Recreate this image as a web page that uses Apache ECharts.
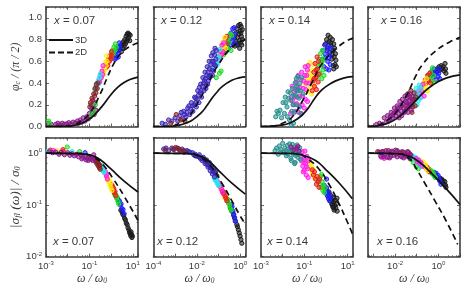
<!DOCTYPE html>
<html><head><meta charset="utf-8">
<style>html,body{margin:0;padding:0;background:#fff}#c{width:463px;height:289px;filter:blur(.35px)}</style>
<script src="https://cdn.jsdelivr.net/npm/echarts@6/dist/echarts.min.js"></script>
</head><body><div id="c"></div>
<script>
// All points: [log10(omega/omega0), phi/(pi/2)] on top row, [log10(omega/omega0), log10(sigma/sigma0)] on bottom row.
const panelLabels=['x = 0.07','x = 0.12','x = 0.14','x = 0.16'];
// theory curves
const top3D07=[[-3,0],[-2.2,.001],[-1.8,.006],[-1.5,.02],[-1.2,.045],[-1,.07],[-.78,.105],[-.4,.19],[-.02,.29],[.3,.36],[.6,.405],[.9,.435],[1.24,.455]];
const top2D07=[[-3,0],[-2.2,.002],[-1.8,.012],[-1.5,.035],[-1,.12],[-.5,.3],[-.2,.44],[.1,.57],[.4,.66],[.8,.73],[1.24,.77]];
const top3D12=[[-4,0],[-3.2,.002],[-2.8,.012],[-2.5,.03],[-2.2,.06],[-1.8,.125],[-1.54,.19],[-1.3,.26],[-1.05,.32],[-.84,.365],[-.38,.425],[0,.45],[.24,.457]];
const top2D12=[[-4,0],[-3.3,.002],[-2.84,.025],[-2.38,.09],[-1.92,.23],[-1.45,.41],[-1,.57],[-.38,.73],[.24,.8]];
const top3D14=[[-3,0],[-2.5,.004],[-2.1,.012],[-1.7,.03],[-1.25,.08],[-1,.125],[-.78,.18],[-.48,.27],[-.25,.325],[-.02,.365],[.45,.42],[.9,.45],[1.25,.46]];
const top2D14=[[-3,0],[-2.5,.003],[-2,.03],[-1.55,.09],[-1.1,.23],[-.63,.41],[-.17,.58],[.6,.74],[1.25,.815]];
const top3D16=[[-3.25,0],[-2.88,.004],[-2.42,.025],[-1.96,.068],[-1.5,.145],[-1.03,.24],[-.73,.305],[-.27,.38],[.35,.445],[1,.475]];
const top2D16=[[-3.25,0],[-2.88,.006],[-2.42,.05],[-1.96,.13],[-1.46,.29],[-1.03,.47],[-.77,.56],[-.16,.69],[.54,.78],[1,.82]];
const bot3D07=[[-3,0],[-1.5,-.01],[-1.1,-.025],[-.78,-.06],[-.48,-.13],[-.02,-.3],[.6,-.54],[1.24,-.75]];
const bot2D07=[[-3,0],[-1.4,-.005],[-.78,-.085],[-.4,-.21],[.06,-.47],[.6,-.83],[1.24,-1.3]];
const bot3D12=[[-4,0],[-2.35,-.01],[-1.76,-.07],[-1.45,-.15],[-1,-.33],[-.38,-.58],[.24,-.79]];
const bot2D12=[[-4,0],[-2.35,-.005],[-1.76,-.1],[-1.3,-.28],[-.84,-.58],[-.38,-.92],[0,-1.21],[.24,-1.37]];
const bot3D14=[[-3,0],[-1.6,-.005],[-1.09,-.035],[-.48,-.14],[-.02,-.31],[.6,-.57],[1.22,-.88]];
const bot2D14=[[-3,0],[-1.4,-.005],[-.78,-.13],[-.32,-.31],[.14,-.6],[.6,-.97],[.98,-1.32],[1.25,-1.58]];
const bot3D16=[[-3.25,0],[-1.9,-.01],[-1.34,-.06],[-.88,-.17],[-.27,-.41],[.35,-.68],[1,-.99]];
const bot2D16=[[-3.25,0],[-1.8,-.01],[-1.3,-.12],[-1.03,-.29],[-.57,-.62],[-.11,-.955],[.35,-1.3],[.89,-1.76]];

// phase, x = 0.07
const t07Black=[[.41,.71],[.45,.74],[.48,.69],[.5,.76],[.54,.72],[.57,.78],[.6,.74],[.63,.8],[.66,.76],[.69,.83],[.71,.78],[.74,.85],[.76,.8],[.78,.86],[.8,.82],[.83,.85],[.86,.79],[.88,.84]];
const t07Blue=[[.18,.62],[.21,.66],[.24,.63],[.26,.7],[.29,.67],[.32,.74],[.35,.7],[.38,.77],[.4,.73],[.33,.64]];
const t07Green=[[-.05,.63],[-.01,.66],[.03,.64],[.06,.7],[.1,.67],[.13,.73],[.17,.7],[.2,.76],[.24,.73]];
const t07Red=[[-.23,.54],[-.19,.58],[-.15,.56],[-.12,.62],[-.08,.6],[-.05,.65],[-.01,.62],[.02,.69],[.04,.65]];
const t07Yellow=[[-.42,.46],[-.38,.5],[-.34,.48],[-.32,.54],[-.28,.52],[-.26,.59],[-.23,.56],[-.21,.65],[-.19,.6]];
const t07Magenta=[[-.6,.4],[-.56,.43],[-.52,.41],[-.49,.47],[-.45,.45],[-.42,.51],[-.39,.48],[-.37,.56]];
const t07Cyan=[[-.75,.34],[-.7,.37],[-.66,.35],[-.62,.41],[-.58,.39],[-.54,.45],[-.5,.48]];
const t07Brown=[[-.98,.18],[-.95,.22],[-.92,.2],[-.88,.26],[-.84,.24],[-.8,.3],[-.76,.28],[-.74,.35],[-.7,.31],[-.68,.39],[-.64,.35],[-.6,.4]];
const t07Purple=[[-2.88,.03],[-2.75,.02],[-2.55,.02],[-2.45,.03],[-2.35,.015],[-2.25,.03],[-2.15,.02],[-2.05,.025],[-1.95,.035],[-1.85,.02],[-1.75,.04],[-1.65,.03],[-1.55,.05],[-1.5,.03],[-1.42,.06],[-1.35,.04],[-1.28,.08],[-1.2,.05],[-1.12,.09],[-1.05,.07],[-1,.12],[-.95,.09],[-.9,.16],[-.85,.12],[-.8,.18],[-.78,.11],[-.75,.22],[-.7,.15]];
const t07Low=[[-2.88,.05],[-2.82,.02],[-.9,.1],[-.82,.14],[-.72,.2]];
// phase, x = 0.12
const t12Black=[[-.3,.76],[-.26,.82],[-.24,.74],[-.2,.86],[-.18,.78],[-.14,.9],[-.12,.82],[-.1,.75],[-.07,.93],[-.05,.85],[-.03,.79],[0,.94],[.01,.88],[.03,.77],[.05,.92],[.06,.83],[.08,.75],[.1,.89],[.11,.8],[-.15,.76],[-.02,.72],[.04,.86]];
const t12Blue=[[-.61,.7],[-.57,.76],[-.53,.72],[-.5,.8],[-.46,.75],[-.42,.86],[-.38,.78],[-.34,.9],[-.3,.82],[-.27,.91],[-.24,.85],[-.22,.76]];
const t12Green=[[-.76,.66],[-.72,.71],[-.67,.68],[-.63,.76],[-.58,.72],[-.55,.81],[-.5,.77],[-.46,.85],[-.42,.7],[-.38,.84]];
const t12Red=[[-.9,.65],[-.85,.7],[-.81,.67],[-.77,.75],[-.72,.71],[-.68,.81],[-.63,.76],[-.61,.83]];
const t12Yellow=[[-.92,.66],[-.87,.73],[-.82,.7],[-.78,.78],[-.74,.74],[-.7,.82],[-.66,.72]];
const t12Magenta=[[-1.07,.58],[-1.02,.64],[-.97,.61],[-.93,.69],[-.88,.66],[-.84,.75],[-.8,.69],[-.76,.77]];
const t12Cyan=[[-1.15,.55],[-1.1,.6],[-1.05,.57],[-1.01,.65],[-.97,.63],[-.93,.71]];
const t12Navy=[[-3.6,.03],[-3.45,.02],[-3.3,.06],[-3.15,.05],[-3,.08],[-2.88,.05],[-2.78,.1],[-2.68,.07],[-2.6,.14],[-2.5,.09],[-2.42,.17],[-2.32,.11],[-2.25,.22],[-2.18,.14],[-2.1,.27],[-2.02,.18],[-1.96,.33],[-1.9,.22],[-1.82,.39],[-1.78,.27],[-1.72,.45],[-1.66,.33],[-1.62,.5],[-1.56,.38],[-1.52,.55],[-1.47,.42],[-1.43,.6],[-1.38,.47],[-1.33,.65],[-1.3,.52],[-1.26,.68],[-1.2,.57],[-1.16,.72],[-1.12,.62],[-1.3,.6],[-1.48,.5],[-1.65,.42],[-1.85,.31],[-2.05,.22],
 [-2.72,.13],[-2.56,.11],[-2.45,.13],[-2.36,.19],[-2.28,.16],[-2.2,.19],[-2.12,.2],[-2.06,.26],[-1.98,.25],[-1.92,.29],[-1.88,.36],[-1.8,.33],[-1.74,.37],[-1.69,.4],[-1.6,.44],[-1.54,.47],[-1.5,.39],[-1.42,.53],[-1.4,.45],[-1.35,.57],[-1.28,.47],[-1.24,.6],[-1.22,.51],[-1.18,.66],[-1.14,.56],[-1.1,.7],[-1.44,.46],[-1.58,.35]];
const t12Brown=[[-3.2,.03],[-2.95,.11],[-2.55,.05],[-2.75,.06]];
const t12Green2=[[-.95,.49],[-.88,.51],[-1.1,.45]];
// phase, x = 0.14
const t14Black=[[-.02,.76],[.03,.8],[.07,.72],[.1,.84],[.14,.78],[.17,.68],[.2,.82],[.24,.74],[.27,.62],[.3,.8],[.32,.7],[.34,.56],[.36,.76],[.38,.64],[.4,.72],[.42,.57],[.44,.67],[.46,.61],[.48,.55],[.36,.53],[.29,.66],[.22,.77]];
const t14Blue=[[-.17,.62],[-.13,.7],[-.09,.55],[-.06,.75],[-.02,.63],[.02,.53],[.05,.7],[.08,.6],[.11,.74],[.14,.52],[.17,.66],[.2,.57],[.22,.72],[-.05,.67],[.12,.63]];
const t14Green=[[-.4,.46],[-.36,.55],[-.32,.62],[-.28,.49],[-.25,.67],[-.22,.57],[-.19,.44],[-.16,.7],[-.14,.52],[-.12,.62],[-.09,.47],[-.27,.58],[-.17,.6]];
const t14Red=[[-.63,.33],[-.59,.42],[-.56,.5],[-.53,.37],[-.5,.58],[-.47,.45],[-.44,.34],[-.41,.64],[-.39,.53],[-.36,.41],[-.34,.6],[-.32,.48],[-.46,.52],[-.55,.44]];
const t14Yellow=[[-.94,.38],[-.9,.46],[-.86,.56],[-.83,.32],[-.8,.5],[-.77,.42],[-.74,.59],[-.71,.36],[-.68,.52],[-.65,.3],[-.62,.46],[-.59,.57],[-.56,.38],[-.84,.42],[-.7,.46]];
const t14Magenta=[[-1.63,.12],[-1.6,.27],[-1.56,.37],[-1.5,.2],[-1.47,.32],[-1.42,.14],[-1.38,.41],[-1.33,.27],[-1.28,.47],[-1.24,.19],[-1.2,.36],[-1.15,.12],[-1.12,.5],[-1.08,.28],[-1.03,.42],[-1,.17],[-.96,.55],[-.93,.34],[-.89,.47],[-.85,.23],[-.82,.56],[-.79,.4],
 [-1.55,.24],[-1.45,.27],[-1.36,.21],[-1.3,.36],[-1.22,.28],[-1.16,.43],[-1.1,.2],[-1.05,.35],[-.98,.47],[-.95,.25],[-.91,.4],[-.86,.52],[-1.4,.34],[-1.26,.13]];
const t14Teal=[[-2.32,.09],[-2.2,.12],[-2.12,.15],[-2.05,.08],[-1.98,.22],[-1.92,.12],[-1.88,.27],[-1.8,.18],[-1.75,.32],[-1.68,.06],[-1.62,.24],[-1.58,.14],[-1.55,.35],[-1.5,.03],[-1.47,.28],[-1.42,.4],[-1.38,.2],[-1.33,.33],[-1.3,.46],[-1.25,.26],[-1.2,.4],[-1.16,.12],[-1.12,.45],[-1.06,.3],
 [-2.26,.14],[-1.85,.22],[-1.72,.26],[-1.64,.31],[-1.52,.2],[-1.46,.13],[-1.41,.29],[-1.35,.37],[-1.28,.33],[-1.22,.18],[-1.18,.33],[-1.37,.44],[-1.6,.01],[-1.78,.09]];
// phase, x = 0.16
const t16Black=[[-.11,.5],[-.06,.53],[-.01,.51],[.03,.55],[.08,.52],[.13,.56],[.17,.53],[.22,.55],[.27,.51],[.31,.58],[.33,.53],[.35,.49]];
const t16Blue=[[-.34,.47],[-.29,.51],[-.24,.45],[-.2,.53],[-.15,.48],[-.1,.43],[-.06,.51],[-.01,.46],[.03,.53],[.07,.44],[-.22,.49],[.02,.49]];
const t16Green=[[-.5,.42],[-.45,.47],[-.4,.44],[-.36,.5],[-.31,.42],[-.27,.54],[-.22,.47],[-.19,.41]];
const t16Red=[[-.65,.39],[-.6,.43],[-.55,.4],[-.5,.47],[-.45,.42],[-.4,.49],[-.36,.4]];
const t16Yellow=[[-.8,.33],[-.75,.38],[-.7,.35],[-.65,.41],[-.6,.37],[-.55,.44],[-.5,.33],[-.62,.33]];
const t16Magenta=[[-.96,.28],[-.91,.33],[-.86,.3],[-.81,.36],[-.76,.32],[-.71,.39],[-.66,.28],[-.8,.27]];
const t16Cyan=[[-1.19,.22],[-1.13,.3],[-1.08,.26],[-1.03,.35],[-.98,.2],[-.93,.3],[-.88,.38],[-.84,.26],[-.8,.35],[-1.02,.27],[-.92,.24]];
const t16Brown=[[-1.53,.14],[-1.47,.22],[-1.42,.3],[-1.37,.18],[-1.32,.27],[-1.27,.33],[-1.22,.13],[-1.17,.24],[-1.12,.31],[-1.07,.19],[-1.04,.27],[-1.3,.2],[-1.18,.18],[-1.1,.25]];
const t16Purple=[[-2.85,.02],[-2.72,.03],[-2.6,.02],[-2.5,.08],[-2.42,.04],[-2.35,.1],[-2.26,.06],[-2.18,.13],[-2.1,.08],[-2.03,.17],[-1.96,.1],[-1.9,.19],[-1.84,.12],[-1.78,.23],[-1.72,.14],[-1.66,.25],[-1.6,.17],[-1.54,.28],[-1.48,.16],[-1.42,.26],[-1.36,.2],[-1.3,.3],[-1.25,.15],[-1.2,.24],[-1.7,.19],[-2,.13],
 [-2.3,.05],[-2.22,.09],[-2.14,.1],[-2.06,.12],[-1.93,.15],[-1.87,.17],[-1.81,.08],[-1.75,.18],[-1.69,.1],[-1.63,.21],[-1.57,.13],[-1.51,.23],[-1.45,.19],[-1.4,.13],[-1.34,.24],[-1.28,.19],[-1.22,.28]];

// magnitude, x = 0.07
const b07Black=[[.45,-1.1],[.5,-1.13],[.54,-1.18],[.58,-1.2],[.62,-1.26],[.66,-1.29],[.7,-1.35],[.74,-1.38],[.78,-1.44],[.82,-1.48],[.85,-1.53],[.88,-1.56],[.91,-1.6],[.94,-1.57],[.96,-1.63],[.98,-1.6],[.92,-1.52]];
const b07Blue=[[.3,-.88],[.34,-.93],[.38,-.92],[.42,-1],[.46,-.98],[.5,-1.07],[.55,-1.09],[.6,-1.17],[-1.2,.01]];
const b07Green=[[.15,-.78],[.19,-.82],[.22,-.8],[.25,-.87],[.28,-.85],[.32,-.93],[.35,-.98],[-2.02,.12],[-1.45,.03]];
const b07Red=[[0,-.6],[.03,-.65],[.06,-.63],[.09,-.7],[.12,-.68],[.15,-.76],[.18,-.74],[.21,-.82],[-2.22,.07],[-2.2,.03],[-2.8,.06]];
const b07Yellow=[[-.22,-.45],[-.18,-.5],[-.14,-.48],[-.12,-.55],[-.08,-.53],[-.05,-.62],[-.02,-.58],[0,-.67],[.04,-.72],[-2.5,.05]];
const b07Magenta=[[-.42,-.28],[-.38,-.33],[-.34,-.31],[-.3,-.38],[-.26,-.36],[-.22,-.44],[-.2,-.41],[-.17,-.5],[-2.65,.05]];
const b07Cyan=[[-.52,-.22],[-.48,-.26],[-.44,-.24],[-.42,-.3],[-.38,-.28],[-.35,-.35],[-.32,-.37],[-2.9,.04],[-1.8,.03]];
const b07Brown=[[-.75,-.1],[-.72,-.16],[-.68,-.13],[-.66,-.2],[-.62,-.17],[-.6,-.24],[-.56,-.21],[-.54,-.28],[-.5,-.31],[-.52,-.24]];
const b07Purple=[[-2.85,.03],[-2.7,.01],[-2.55,.02],[-2.4,-.02],[-2.3,.02],[-2.15,-.03],[-2,.01],[-1.9,-.04],[-1.8,-.01],[-1.7,-.05],[-1.6,-.02],[-1.5,-.07],[-1.4,-.03],[-1.3,-.08],[-1.2,-.05],[-1.1,-.1],[-1,-.06],[-.95,-.12],[-.9,-.08],[-.85,-.14],[-.8,-.03],[-.78,-.11],[-1.35,-.11],[-1.15,-.13],[-1.05,-.14]];
// magnitude, x = 0.12
const b12Black=[[-2.07,-.05],[-1.9,-.07],[-1.76,-.1],[-1.6,-.16],[-1.45,-.22],[-1.38,-.27],[-1.25,-.33],[-1.15,-.38],[-1.07,-.44],[-.45,-1.05],[-.38,-1.12],[-.3,-1.2],[-.22,-1.31],[-.15,-1.38],[-.08,-1.48],[-.04,-1.54],[0,-1.6],[.04,-1.67],[.08,-1.74],[-.26,-1.25],[-.12,-1.42]];
const b12Blue=[[-.45,-.99],[-.41,-1.05],[-.37,-1.03],[-.33,-1.12],[-.29,-1.18],[-.25,-1.25],[-.22,-1.31]];
const b12Green=[[-.65,-.86],[-.61,-.92],[-.57,-.89],[-.53,-.97],[-.49,-1],[-.45,-1.07],[-.41,-1.1]];
const b12Red=[[-.81,-.73],[-.77,-.78],[-.73,-.76],[-.69,-.83],[-.65,-.87],[-.61,-.92]];
const b12Yellow=[[-.92,-.66],[-.88,-.71],[-.84,-.69],[-.8,-.76],[-.76,-.79],[-.72,-.86]];
const b12Magenta=[[-1.07,-.54],[-1.03,-.59],[-.99,-.57],[-.95,-.64],[-.9,-.62],[-.86,-.7],[-.81,-.76]];
const b12Cyan=[[-1.19,-.47],[-1.15,-.52],[-1.11,-.5],[-1.07,-.56],[-1.03,-.59],[-.99,-.63]];
const b12Navy=[[-3.53,.08],[-3.42,.1],[-3.3,.05],[-3.15,.1],[-3.05,.07],[-2.9,.1],[-2.8,.06],[-2.68,.08],[-2.55,.04],[-2.45,.05],[-2.32,.02],[-2.2,.01],[-2.07,-.02],[-1.98,-.06],[-1.88,-.03],[-1.76,-.14],[-1.7,-.08],[-1.62,-.2],[-1.55,-.13],[-1.48,-.27],[-1.42,-.18],[-1.38,-.34],[-1.32,-.24],[-1.28,-.4],[-1.22,-.3],[-1.18,-.46],[-1.12,-.36],[-2.6,.02],[-2.38,.03],[-2.14,-.03],[-1.84,-.1],[-1.66,-.12],[-1.52,-.22],[-1.35,-.28],[-1.25,-.36]];
const b12Mixed=[[-3.45,.06],[-3.1,.08],[-2.98,.11],[-2.85,.09],[-2.75,.05],[-2.6,.05]];
// magnitude, x = 0.14
const b14Black=[[.06,-.73],[.1,-.8],[.14,-.75],[.17,-.86],[.2,-.92],[.24,-.82],[.27,-.98],[.29,-.9],[.32,-1.04],[.35,-.95],[.38,-1.1],[.4,-1.01],[.43,-.91],[.46,-1.06],[.49,-.98],[.51,-.87],[.52,-1.12],[.33,-.86],[.3,-1.0],[.36,-1.06]];
const b14Blue=[[-.08,-.62],[-.04,-.7],[0,-.76],[.03,-.67],[.06,-.82],[.09,-.75],[.12,-.88],[.15,-.78],[.17,-.92],[.2,-.85],[.03,-.5]];
const b14Green=[[-.35,-.52],[-.3,-.6],[-.26,-.45],[-.22,-.66],[-.18,-.55],[-.14,-.72],[-.1,-.62],[-.07,-.76],[-.05,-.68],[-.2,-.41]];
const b14Red=[[-.63,-.32],[-.58,-.42],[-.53,-.36],[-.48,-.5],[-.44,-.6],[-.4,-.45],[-.36,-.55],[-.32,-.66],[-.29,-.5]];
const b14Yellow=[[-.82,-.15],[-.78,-.24],[-.74,-.18],[-.7,-.32],[-.66,-.26],[-.62,-.4],[-.58,-.32],[-.55,-.47]];
const b14Magenta=[[-1.17,-.05],[-1.13,-.15],[-1.1,.03],[-1.07,-.25],[-1.03,-.1],[-1,-.33],[-.97,.04],[-.94,-.2],[-.91,-.42],[-.88,-.06],[-.85,-.3],[-.82,-.47],[-.79,-.14],[-1.05,-.36],[-1.01,-.18],[-.96,-.12],[-.9,-.26]];
const b14Teal=[[-2.35,.05],[-2.28,.1],[-2.2,-.02],[-2.15,.14],[-2.08,.07],[-2,.19],[-1.95,.02],[-1.9,.1],[-1.83,-.05],[-1.78,.15],[-1.72,.05],[-1.68,.18],[-1.62,-.1],[-1.58,.08],[-1.55,.17],[-1.5,-.02],[-1.45,.12],[-1.42,-.18],[-1.38,.06],[-1.33,.16],[-1.3,-.08],[-1.25,.03],[-1.22,.11],[-1.18,-.12],[-1.45,-.2],[-1.6,-.14],[-2.1,.02],[-1.85,.05],[-1.75,-.02],[-1.65,.04],[-1.52,.04],[-1.4,-.04],[-1.28,-.02]];
const b14Mixed=[[-1.62,.12],[-1.48,.07],[-1.35,.1],[-1.3,.13],[-1.24,.04]];
// magnitude, x = 0.16
const b16Black=[[.07,-.48],[.11,-.53],[.15,-.5],[.18,-.56],[.22,-.53],[.26,-.6],[.3,-.55],[.33,-.62],[.35,-.66]];
const b16Blue=[[-.19,-.37],[-.14,-.42],[-.1,-.39],[-.05,-.46],[-.01,-.43],[.03,-.5],[.07,-.54],[.12,-.6]];
const b16Green=[[-.42,-.31],[-.37,-.36],[-.32,-.34],[-.28,-.4],[-.23,-.38],[-.19,-.44],[-.14,-.47],[-1.27,-.12],[-1.15,-.18],[-1.02,-.26],[-.92,-.3]];
const b16Red=[[-.62,-.24],[-.57,-.29],[-.52,-.27],[-.47,-.33],[-.42,-.36]];
const b16Yellow=[[-.8,-.15],[-.75,-.19],[-.7,-.17],[-.65,-.24],[-.6,-.22],[-.55,-.29],[-.5,-.34]];
const b16Magenta=[[-2.62,-.08],[-2.5,-.1],[-1.03,-.1],[-.98,-.16],[-.92,-.13],[-.86,-.2],[-.8,-.18],[-.74,-.25]];
const b16Cyan=[[-1.19,-.05],[-1.13,-.1],[-1.07,-.08],[-1.01,-.14],[-.95,-.12],[-.89,-.2],[-.84,-.17],[-.8,-.26]];
const b16Brown=[[-2.8,.03],[-2.55,.03],[-2.3,.05],[-2.1,.02],[-1.9,.05],[-1.75,.01],[-1.6,.02],[-1.42,.03],[-1.3,-.02]];
const b16Purple=[[-2.72,.02],[-2.66,-.06],[-2.6,.03],[-2.48,-.03],[-2.42,.05],[-2.35,-.08],[-2.28,.01],[-2.2,-.06],[-2.14,.04],[-2.05,-.04],[-1.98,.06],[-1.9,-.07],[-1.82,.01],[-1.75,-.05],[-1.68,.03],[-1.6,-.09],[-1.52,-.01],[-1.45,-.06],[-1.38,.02],[-1.32,-.1],[-1.27,-.04],[-2.52,-.07],[-2.25,-.09],[-1.95,-.02],[-1.7,-.07],[-1.55,-.05],[-1.35,-.06]];

const colors={black:'#1c1c1c',blue:'#1f1fff',green:'#20dd20',red:'#ee1c1c',yellow:'#ffee10',magenta:'#ff20ee',cyan:'#20eeee',brown:'#8a2222',purple:'#8a1a8a',navy:'#3a28b8',teal:'#2b8f8f'};
const panelBands=[
 [[['black',t07Black],['blue',t07Blue],['green',t07Green],['red',t07Red],['yellow',t07Yellow],['magenta',t07Magenta],['cyan',t07Cyan],['brown',t07Brown],['purple',t07Purple],['green',t07Low]],
  [['black',b07Black],['blue',b07Blue],['green',b07Green],['red',b07Red],['yellow',b07Yellow],['magenta',b07Magenta],['cyan',b07Cyan],['brown',b07Brown],['purple',b07Purple]]],
 [[['black',t12Black],['green',t12Green2],['blue',t12Blue],['green',t12Green],['red',t12Red],['yellow',t12Yellow],['magenta',t12Magenta],['cyan',t12Cyan],['navy',t12Navy],['brown',t12Brown]],
  [['black',b12Black],['blue',b12Blue],['green',b12Green],['yellow',b12Yellow],['red',b12Red],['magenta',b12Magenta],['cyan',b12Cyan],['navy',b12Navy],['brown',b12Mixed]]],
 [[['black',t14Black],['blue',t14Blue],['green',t14Green],['yellow',t14Yellow],['red',t14Red],['magenta',t14Magenta],['teal',t14Teal]],
  [['black',b14Black],['blue',b14Blue],['green',b14Green],['yellow',b14Yellow],['red',b14Red],['magenta',b14Magenta],['teal',b14Teal],['purple',b14Mixed]]],
 [[['black',t16Black],['blue',t16Blue],['green',t16Green],['red',t16Red],['yellow',t16Yellow],['magenta',t16Magenta],['cyan',t16Cyan],['brown',t16Brown],['purple',t16Purple]],
  [['black',b16Black],['blue',b16Blue],['green',b16Green],['red',b16Red],['yellow',b16Yellow],['cyan',b16Cyan],['magenta',b16Magenta],['brown',b16Brown],['purple',b16Purple]]]
];
const topCurves=[[top3D07,top2D07],[top3D12,top2D12],[top3D14,top2D14],[top3D16,top2D16]];
const botCurves=[[bot3D07,bot2D07],[bot3D12,bot2D12],[bot3D14,bot2D14],[bot3D16,bot2D16]];
const xExtents=[[-3,1.24],[-4,.25],[-3,1.25],[-3.25,1]];
const xLabelExps=[[-3,-1,1],[-4,-2,0],[-3,-1,1],[-2,0]];
const yTopTicks=[0,.2,.4,.6,.8,1];

const ink='#3a3a3a', frame='#3c3c38';
const gridX=[46,153.5,261,368], gridW=92;
const rows=[{top:7,h:119.5},{top:137.7,h:119}];
const labelPos=[[[54,22],[161,22],[269,22],[381,22]],[[53,243],[157,243],[267,243],[377,243]]];
const titleFont='"Liberation Serif",serif', sans='"Liberation Sans",Arial,sans-serif';

const pw=e=>Math.pow(10,e);
const grid=[],xAxis=[],yAxis=[],series=[],title=[];
const expOf=v=>{const e=Math.log10(v);const r=Math.round(e);return Math.abs(e-r)<1e-6?r:null};
const supRich={b:{fontSize:9.5,color:ink,fontFamily:sans},s:{fontSize:6,color:ink,fontFamily:sans,padding:[0,0,5,0]}};
const inTick={show:true,inside:true,length:3,lineStyle:{color:frame,width:.8}};
function minor(n){return {show:true,length:1.6,splitNumber:n,lineStyle:{color:frame,width:.6}}}
function nameRich(size){return {i:{fontFamily:titleFont,fontStyle:'italic',fontSize:size,color:ink},u:{fontFamily:titleFont,fontStyle:'italic',fontSize:size*.62,color:ink,padding:[0,0,-5,0]}}}
for(let r=0;r<2;r++){for(let p=0;p<4;p++){
  const gi=grid.length;
  grid.push({left:gridX[p],top:rows[r].top,width:gridW,height:rows[r].h,show:false});
  const xmin=pw(xExtents[p][0]),xmax=pw(xExtents[p][1]);
  const xBase={type:'log',logBase:10,min:xmin,max:xmax,gridIndex:gi,splitLine:{show:false},minorSplitLine:{show:false},
    axisLine:{show:true,onZero:false,lineStyle:{color:frame,width:1.6}},axisTick:inTick,minorTick:minor(5)};
  xAxis.push(Object.assign({},xBase,{position:'bottom',
    name:r===1?'{i|ω / ω}{u|0}':'',nameLocation:'middle',nameGap:16,
    nameTextStyle:{rich:nameRich(12)},
    axisLabel:{show:r===1,margin:4,hideOverlap:false,showMinLabel:true,showMaxLabel:true,formatter:v=>{const e=expOf(v);return e!==null&&xLabelExps[p].includes(e)?`{b|10}{s|${e}}`:''},rich:supRich}}));
  xAxis.push(Object.assign({},xBase,{position:'top',axisLabel:{show:false}}));
  const yBase=r===0?{type:'value',min:0,max:1.1,interval:.2,minorTick:minor(2)}:{type:'log',logBase:10,min:.01,max:pw(.3),minorTick:minor(5)};
  const yCommon={gridIndex:gi,splitLine:{show:false},minorSplitLine:{show:false},axisLine:{show:true,onZero:false,lineStyle:{color:frame,width:1.6}},axisTick:inTick};
  yAxis.push(Object.assign({},yBase,yCommon,{position:'left',
    name:p===0?(r===0?'{i|φ}{u|c}{i| / (π / 2)}':'{i||σ}{u|fl}{i| (ω)| / σ}{u|0}'):'',nameLocation:'middle',nameGap:24,nameRotate:90,
    nameTextStyle:{rich:nameRich(r===0?12:13.5)},
    axisLabel:{show:p===0,margin:4,showMinLabel:true,fontSize:9.5,color:ink,fontFamily:sans,rich:supRich,
      formatter:r===0?(v=>yTopTicks.some(t=>Math.abs(t-v)<1e-6)?v.toFixed(1):''):(v=>{const e=expOf(v);return e!==null?`{b|10}{s|${e}}`:''})}}));
  yAxis.push(Object.assign({},yBase,yCommon,{position:'right',axisLabel:{show:false}}));
  const xi=gi*2, yi=gi*2;
  const conv=r===0?(d=>[pw(d[0]),d[1]]):(d=>[pw(d[0]),pw(d[1])]);
  panelBands[p][r].forEach(([c,arr])=>series.push({type:'scatter',xAxisIndex:xi,yAxisIndex:yi,data:arr.map(conv),symbolSize:4.2,silent:true,
    itemStyle:{color:colors[c]+'90',borderColor:colors[c],borderWidth:1,opacity:1},z:2}));
  const curves=(r===0?topCurves:botCurves)[p];
  series.push({name:'3D',type:'line',xAxisIndex:xi,yAxisIndex:yi,data:curves[0].map(conv),smooth:.5,showSymbol:false,symbol:'none',silent:true,lineStyle:{color:'#111',width:1.7,type:'solid'},z:4});
  series.push({name:'2D',type:'line',xAxisIndex:xi,yAxisIndex:yi,data:curves[1].map(conv),smooth:.5,showSymbol:false,symbol:'none',silent:true,lineStyle:{color:'#111',width:1.7,type:[6,4]},z:4});
  const [lx,ly]=labelPos[r][p];
  title.push({left:lx,top:ly-7,padding:0,text:'{i|x}{n|'+panelLabels[p].slice(1)+'}',textStyle:{fontWeight:'normal',rich:{i:{fontFamily:sans,fontStyle:'italic',fontWeight:'normal',fontSize:11.5,color:ink},n:{fontFamily:sans,fontWeight:'normal',fontSize:11.5,color:ink}}}});
}}
const chart=echarts.init(document.getElementById('c'),null,{renderer:'canvas'});
chart.setOption({animation:false,backgroundColor:'#fff',grid,xAxis,yAxis,series,title,
  legend:{data:[{name:'3D',icon:'path://M0 0H24V2H0Z'},{name:'2D',icon:'path://M0 0H6V2H0Z M9 0H15V2H9Z M18 0H24V2H18Z'}],orient:'vertical',left:49,top:35,itemWidth:24,itemHeight:2,itemGap:2.5,selectedMode:false,padding:0,inactiveColor:'#111',itemStyle:{color:'#111'},textStyle:{fontSize:9.5,color:ink,fontFamily:sans,padding:[0,0,0,-3]}}});
</script></body></html>
